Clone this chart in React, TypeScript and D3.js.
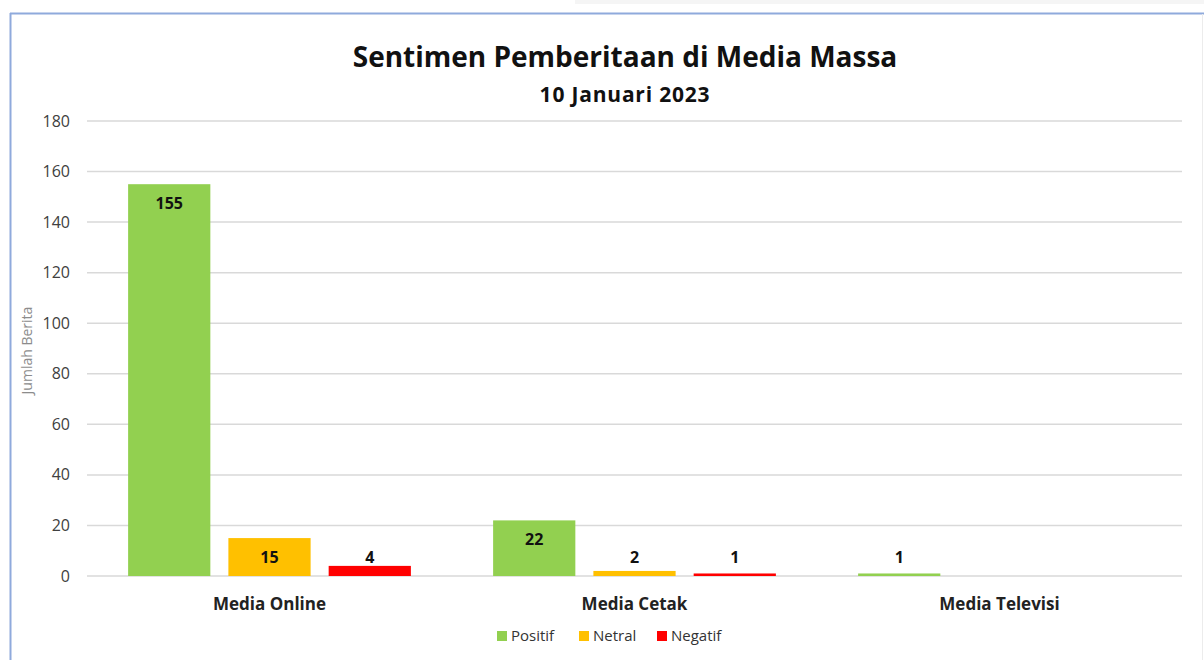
import React from 'react'
import * as d3 from 'd3'

const categories = ['Media Online', 'Media Cetak', 'Media Televisi']
const seriesNames = ['Positif', 'Netral', 'Negatif']
const seriesColors = ['#92D050', '#FFC000', '#FF0000']
const positif = [155, 22, 1]
const netral: (number | null)[] = [15, 2, null]
const negatif: (number | null)[] = [4, 1, null]
const yTicks = [0, 20, 40, 60, 80, 100, 120, 140, 160, 180]

const W = 1204
const H = 660
const FONT = "'Open Sans', 'Noto Sans', sans-serif"

const App = () => {
	const margin = { left: 87, right: 22, top: 121, bottom: 84 }
	const values = [positif, netral, negatif]

	const x0 = d3.scaleBand().domain(categories).range([margin.left, W - margin.right]).padding(0)
	const x1 = d3
		.scaleBand()
		.domain(seriesNames)
		.range([0, x0.bandwidth()])
		.paddingInner(0.18)
		.paddingOuter(0.41)
	const y = d3.scaleLinear().domain([0, 180]).range([H - margin.bottom, margin.top])

	const legendX = [497, 579, 657]

	return (
		<svg width={W} height={H} style={{ position: 'absolute', left: 0, top: 0, background: '#fff' }}>
			{/* frame */}
			<rect x={575} y={0} width={W - 575} height={4} fill='#f5f5f5' />
			<line x1={10} x2={W} y1={13.5} y2={13.5} stroke='#8FAADC' strokeWidth={2} />
			<line x1={10.5} x2={10.5} y1={13} y2={H} stroke='#8FAADC' strokeWidth={2} />
			<line x1={1202.5} x2={1202.5} y1={14} y2={H} stroke='#ececec' strokeWidth={1} />

			<text x={625} y={67} textAnchor='middle' fontFamily={FONT} fontWeight={700} fontSize={28} fill='#111'>
				Sentimen Pemberitaan di Media Massa
			</text>
			<text
				x={625}
				y={102}
				textAnchor='middle'
				fontFamily={FONT}
				fontWeight={700}
				fontSize={21}
				letterSpacing={0.8}
				fill='#111'
			>
				10 Januari 2023
			</text>

			{/* grid + y ticks */}
			{yTicks.map(t => (
				<g key={t}>
					<line
						x1={margin.left}
						x2={W - margin.right}
						y1={y(t)}
						y2={y(t)}
						stroke='#d9d9d9'
						strokeWidth={1.5}
					/>
					<text
						x={70}
						y={y(t)}
						dy='0.35em'
						textAnchor='end'
						fontFamily={FONT}
						fontSize={16}
						fill='#404040'
					>
						{t}
					</text>
				</g>
			))}

			<text
				transform={`translate(32,${(y(0) + y(180)) / 2 + 2}) rotate(-90)`}
				textAnchor='middle'
				fontFamily={FONT}
				fontSize={14}
				fill='#8c8c8c'
			>
				Jumlah Berita
			</text>

			{/* bars */}
			{categories.map((c, ci) => (
				<g key={c} transform={`translate(${x0(c)},0)`}>
					{seriesNames.map((s, si) => {
						const v = values[si][ci]
						if (v == null) return null
						const top = y(v)
						const ly = Math.min(top + 19, y(0) - 19)
						return (
							<g key={s}>
								<rect
									x={x1(s)}
									y={top}
									width={x1.bandwidth()}
									height={y(0) - top}
									fill={seriesColors[si]}
								/>
								<text
									x={(x1(s) as number) + x1.bandwidth() / 2}
									y={ly}
									dy='0.35em'
									textAnchor='middle'
									fontFamily={FONT}
									fontWeight={700}
									fontSize={16}
									fill='#111'
								>
									{v}
								</text>
							</g>
						)
					})}
					<text
						x={x0.bandwidth() / 2}
						y={604}
						dy='0.35em'
						textAnchor='middle'
						fontFamily={FONT}
						fontWeight={700}
						fontSize={17}
						fill='#222'
					>
						{c}
					</text>
				</g>
			))}

			{/* legend */}
			{seriesNames.map((s, i) => (
				<g key={s} transform={`translate(${legendX[i]},636)`}>
					<rect x={0} y={-5} width={10} height={10} fill={seriesColors[i]} />
					<text x={14} y={0} dy='0.35em' fontFamily={FONT} fontSize={15} fill='#333'>
						{s}
					</text>
				</g>
			))}
		</svg>
	)
}

export default App
